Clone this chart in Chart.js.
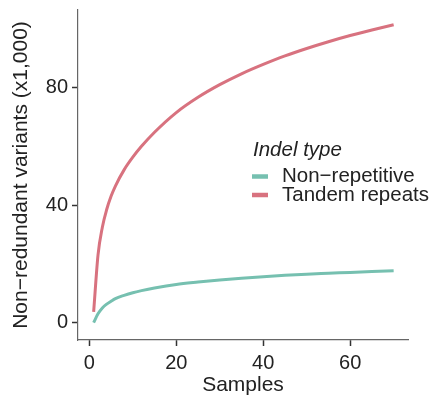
<!DOCTYPE html>
<html>
<head>
<meta charset="utf-8">
<script src="https://cdn.jsdelivr.net/npm/chart.js@4"></script>
<style>
  html, body { margin: 0; padding: 0; background: #fff; }
  #wrap { width: 432px; height: 400px; }
</style>
</head>
<body>
<div id="wrap"><canvas id="chart" width="432" height="400"></canvas></div>
<script>
// values (y in thousands)
const samples = [1, 2, 3, 4, 5, 6, 8, 10, 12, 15, 20, 25, 30, 35, 40, 45, 50, 55, 60, 65, 70];
const nonRepetitive = [0, 3, 5, 6.3, 7.3, 8.2, 9.3, 10.2, 10.9, 11.8, 13, 13.8, 14.5, 15.1, 15.6, 16.1, 16.5, 16.8, 17.1, 17.4, 17.7];
const tandemRepeats = [3.7, 23, 32.5, 38.5, 43, 46.5, 52, 56.3, 60, 64.8, 71.5, 76.7, 81, 84.7, 87.9, 90.8, 93.3, 95.6, 97.7, 99.6, 101.4];
const xTickValues = [0, 20, 40, 60];
const yTickValues = [0, 40, 80];
const seriesNames = ['Non\u2212repetitive', 'Tandem repeats'];
const legendTitle = 'Indel type';

const FONT = "'Liberation Sans', Arial, Helvetica, sans-serif";
const TEXT = '#222';
const colors = ['#76c0b0', '#d8727f'];

function toPoints(vals) {
    return samples.map((s, i) => ({ x: s, y: vals[i] }));
}

// legend drawn inside the plot area, like the ggplot one
const insideLegend = {
    id: 'insideLegend',
    afterDraw(chart) {
        const ctx = chart.ctx;
        const area = chart.chartArea;
        const x0 = area.left + 174;
        const y0 = area.top + 140;
        ctx.save();
        ctx.fillStyle = TEXT;
        ctx.textBaseline = 'middle';
        ctx.textAlign = 'left';
        ctx.font = 'italic 20.5px ' + FONT;
        ctx.fillText(legendTitle, x0 + 1, y0);
        ctx.font = '20.5px ' + FONT;
        chart.data.datasets.forEach((ds, i) => {
            const y = y0 + 26.5 + i * 18.5;
            ctx.strokeStyle = ds.borderColor;
            ctx.lineWidth = 4.5;
            ctx.beginPath();
            ctx.moveTo(x0, y);
            ctx.lineTo(x0 + 16, y);
            ctx.stroke();
            ctx.fillText(ds.label, x0 + 30, y);
        });
        ctx.restore();
    }
};

new Chart(document.getElementById('chart'), {
    type: 'line',
    data: {
        datasets: [
            { label: seriesNames[0], data: toPoints(nonRepetitive), borderColor: colors[0], borderWidth: 3, pointRadius: 0, cubicInterpolationMode: 'monotone', fill: false },
            { label: seriesNames[1], data: toPoints(tandemRepeats), borderColor: colors[1], borderWidth: 3, pointRadius: 0, cubicInterpolationMode: 'monotone', fill: false }
        ]
    },
    options: {
        responsive: false,
        animation: false,
        layout: { padding: { top: 10, right: 24, left: 0, bottom: 0 } },
        plugins: {
            legend: { display: false },
            tooltip: { enabled: false }
        },
        scales: {
            x: {
                type: 'linear',
                min: -2.6,
                max: 73.3,
                afterFit: s => { s.height = 60; s.paddingLeft = 0; s.paddingRight = 0; },
                afterBuildTicks: s => { s.ticks = xTickValues.map(v => ({ value: v })); },
                grid: { drawOnChartArea: false, tickLength: 6, tickColor: '#333', tickWidth: 1.5 },
                border: { color: '#666', width: 1.2 },
                ticks: { color: TEXT, font: { family: FONT, size: 20 }, padding: 5, maxRotation: 0 },
                title: { display: true, text: 'Samples', color: TEXT, font: { family: FONT, size: 21 }, padding: { top: 0, bottom: 2 } }
            },
            y: {
                type: 'linear',
                min: -5.9,
                max: 106.4,
                afterFit: s => { s.width = 78; s.paddingTop = 0; s.paddingBottom = 0; },
                afterBuildTicks: s => { s.ticks = yTickValues.map(v => ({ value: v })); },
                grid: { drawOnChartArea: false, tickLength: 6, tickColor: '#333', tickWidth: 1.5 },
                border: { color: '#666', width: 1.2 },
                ticks: { color: TEXT, font: { family: FONT, size: 20 }, padding: 4 },
                title: { display: true, text: 'Non\u2212redundant variants (x1,000)', color: TEXT, font: { family: FONT, size: 21 }, padding: { top: 9, bottom: 0 } }
            }
        }
    },
    plugins: [insideLegend]
});
</script>
</body>
</html>
